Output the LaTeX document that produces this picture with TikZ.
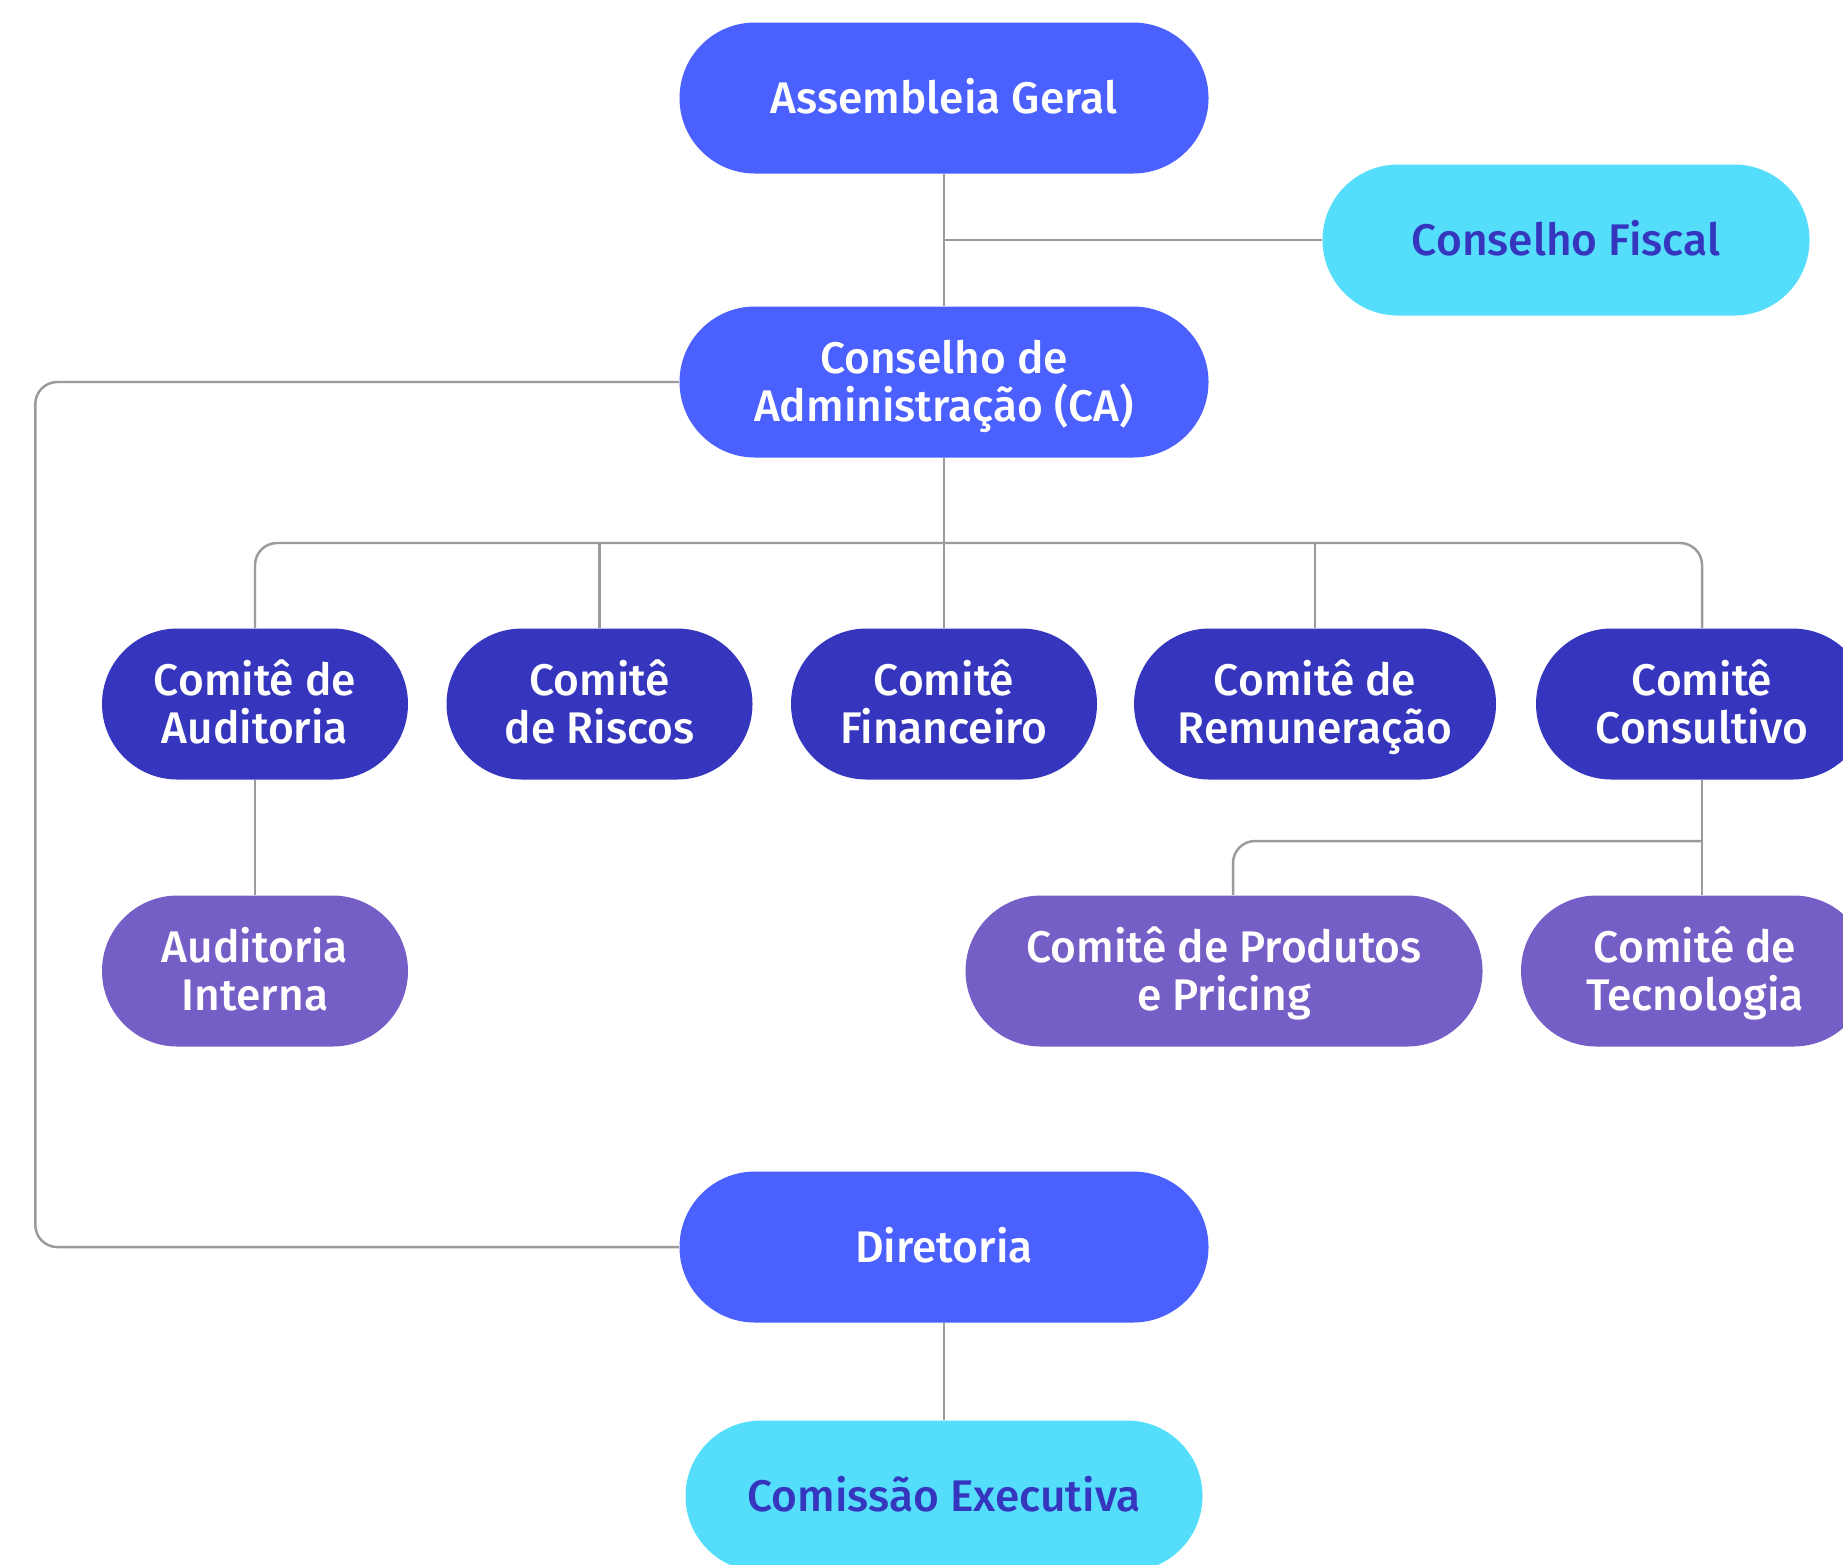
\documentclass[tikz,border=0pt]{standalone}
\usepackage{fontspec}
\setmainfont{Fira Sans Medium}
\definecolor{azul}{RGB}{74,96,255}
\definecolor{ciano}{RGB}{85,221,252}
\definecolor{indigo}{RGB}{53,53,189}
\definecolor{roxo}{RGB}{117,94,198}
\definecolor{linha}{RGB}{155,155,155}
\begin{document}
\begin{tikzpicture}[
		caixa/.style={rectangle, rounded corners=0.755cm, minimum height=1.51cm, inner sep=0pt, align=center, font=\fontsize{12.6}{13.7}\selectfont, text=white, text height=12.2pt, text depth=3.5pt},
		duas/.style={text height=25.9pt},
		orgao/.style={caixa, fill=azul, minimum width=5.29cm},
		fiscal/.style={caixa, fill=ciano, text=indigo},
		comite/.style={caixa, duas, fill=indigo},
		sub/.style={caixa, duas, fill=roxo},
		link/.style={draw=linha, line width=0.7pt, rounded corners=0.22cm}]
		\useasboundingbox (0,0) rectangle (18.43,-15.64);
		\clip (0,0) rectangle (18.43,-15.64);
		% orgaos principais
		\node[orgao] (ag) at (9.44,-0.98) {Assembleia Geral};
		\node[fiscal, minimum width=4.87cm] (cf) at (15.66,-2.40) {Conselho Fiscal};
		\node[orgao, duas] (ca) at (9.44,-3.82) {Conselho de\\Administração (CA)};
		\node[orgao] (dir) at (9.44,-12.47) {Diretoria};
		\node[fiscal, minimum width=5.17cm] (ce) at (9.44,-14.96) {Comissão Executiva};
		% comites
		\node[comite, minimum width=3.06cm] (caud) at (2.55,-7.04) {Comitê de\\Auditoria};
		\node[comite, minimum width=3.06cm] (crisc) at (5.995,-7.04) {Comitê\\de Riscos};
		\node[comite, minimum width=3.06cm] (cfin) at (9.44,-7.04) {Comitê\\Financeiro};
		\node[comite, minimum width=3.62cm] (crem) at (13.15,-7.04) {Comitê de\\Remuneração};
		\node[comite, minimum width=3.32cm] (ccons) at (17.02,-7.04) {Comitê\\Consultivo};
		\node[sub, minimum width=3.06cm] (ai) at (2.55,-9.71) {Auditoria\\Interna};
		\node[sub, minimum width=5.17cm] (cprod) at (12.24,-9.71) {Comitê de Produtos\\e Pricing};
		\node[sub, minimum width=3.48cm] (ctec) at (16.95,-9.71) {Comitê de\\Tecnologia};
		% ligacoes
		\coordinate (bus) at (9.44,-5.43);
		\coordinate (bus2) at (17.02,-8.41);
		\draw[link] (ag) -- (ca);
		\draw[link] (cf) -- (cf -| ag);
		\draw[link] (ca.west) -- ++(-6.435,0) |- (dir.west);
		\draw[link] (ca) -- (bus);
		\draw[link] (caud.north) |- (bus) -| (ccons.north);
		\draw[link] (crisc.north) -- (crisc.north |- bus);
		\draw[link] (cfin) -- (bus);
		\draw[link] (crem.north) -- (crem.north |- bus);
		\draw[link] (caud) -- (ai);
		\draw[link] (ccons.south) -- (ccons.south |- ctec.north);
		\draw[link] (bus2) -| ([xshift=0.09cm]cprod.north);
		\draw[link] (dir) -- (ce);
\end{tikzpicture}
\end{document}
